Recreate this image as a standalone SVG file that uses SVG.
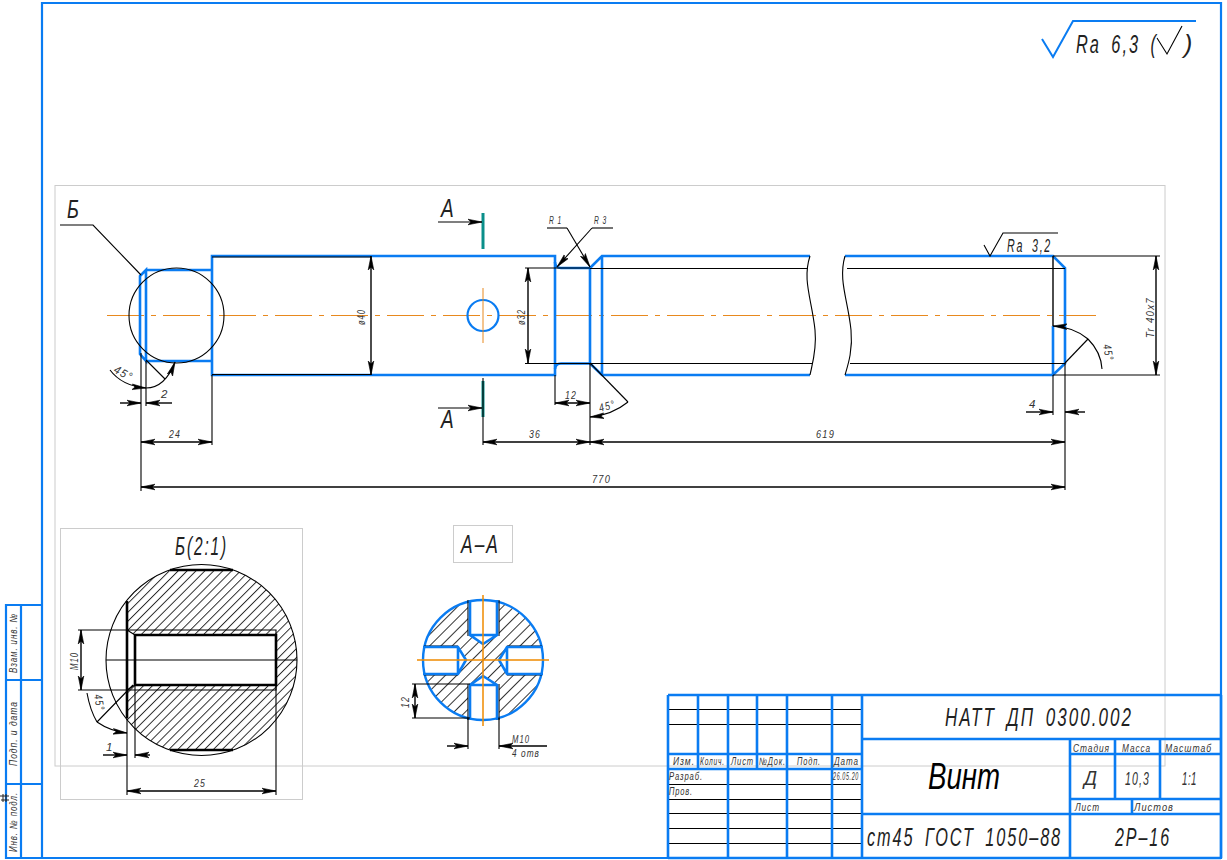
<svg xmlns="http://www.w3.org/2000/svg" width="1227" height="860" viewBox="0 0 1227 860">
<style>
.b{fill:none;stroke:#0a7cf2;stroke-width:2.6}
.k{fill:none;stroke:#000;stroke-width:1.1}
.m{fill:none;stroke:#000;stroke-width:1.4}
.h{fill:none;stroke:#000;stroke-width:2.6}
.g{fill:none;stroke:#ccc;stroke-width:1}
.c{fill:none;stroke:#e8891e;stroke-width:1.2;stroke-dasharray:37 7 5 7}
.o{fill:none;stroke:#f08a00;stroke-width:1.5}
.s{fill:none;stroke:#0a8f8a;stroke-width:3}
.a{marker-start:url(#as);marker-end:url(#ae)}
.e{marker-end:url(#ae)}
.st{marker-start:url(#as)}
text{font-family:"Liberation Sans",Arial,sans-serif;font-style:italic;fill:#333}
.d{font-size:11.500px;letter-spacing:1.500px}
.l{font-size:10.500px;letter-spacing:1.200px}
.x{font-size:25px;fill:#222;letter-spacing:3px;word-spacing:6px}
</style>
<defs>
<marker id="ae" markerUnits="userSpaceOnUse" markerWidth="15" markerHeight="8" refX="14" refY="4" orient="auto"><path d="M0,1.200L14,4L0,6.800L3,4Z" fill="#000" stroke="#000" stroke-width=".6"/></marker>
<marker id="as" markerUnits="userSpaceOnUse" markerWidth="15" markerHeight="8" refX="1" refY="4" orient="auto"><path d="M15,1.200L1,4L15,6.800L12,4Z" fill="#000" stroke="#000" stroke-width=".6"/></marker>
<pattern id="h1" width="6.300" height="6.300" patternUnits="userSpaceOnUse" patternTransform="rotate(-45)"><line x1="0" y1="0.500" x2="6.300" y2="0.500" stroke="#000" stroke-width=".8"/></pattern>
<pattern id="h2" width="8" height="8" patternUnits="userSpaceOnUse" patternTransform="rotate(-45)"><line x1="0" y1="0.500" x2="8" y2="0.500" stroke="#000" stroke-width=".8"/></pattern>
<clipPath id="aa"><circle cx="483" cy="660" r="60"/></clipPath>
</defs>
<rect width="1227" height="860" fill="#fff"/>

<g id="sheet-frame">
<rect class="g" x="55" y="185.500" width="1110" height="580.500"/>
<rect class="g" x="60.500" y="528.500" width="242" height="271"/>
<rect class="g" x="453.500" y="525.500" width="59" height="37"/>
<path class="b" style="stroke-width:2.200" d="M42,858V3H1221V858H6V605H42M6,680H42M6,784H42M21,605V858"/>
<path d="M0,796H9M1,800H9M3,794V802M6,794V802" fill="none" stroke="#222" stroke-width="1"/>
<text class="l" transform="translate(17,673) rotate(-90)" textLength="60" lengthAdjust="spacingAndGlyphs">Взам. инв. №</text>
<text class="l" transform="translate(17,766) rotate(-90)" textLength="65" lengthAdjust="spacingAndGlyphs">Подп. и дата</text>
<text class="l" transform="translate(17,852) rotate(-90)" textLength="60" lengthAdjust="spacingAndGlyphs">Инв. № подл.</text>
</g>

<g id="roughness-general">
<path d="M1042,39L1053,57L1073,21H1196" fill="none" stroke="#0a7cf2" stroke-width="2"/>
<text class="x" transform="translate(1076,53) scale(.66,1)" textLength="124" lengthAdjust="spacingAndGlyphs">Ra 6,3 (</text>
<path class="k" d="M1157,38L1167,54L1182,26"/>
<text class="x" x="1184" y="53" style="letter-spacing:0">)</text>
</g>

<g id="main-view">
<line class="c" x1="107" y1="315.500" x2="1103" y2="315.500"/>
<path class="b" d="M212,256H555V262Q555,268 561,268H590V363.500H561Q555,363.500 555,369.500V375H212ZM146,270H212M146,361H212M146,270L140,276V354L146,361ZM146,270V361"/>
<path class="b" d="M555,262V369M590,268L602,256H810M590,363.500L602,375H810M602,256V375"/>
<path class="b" d="M845,256H1053L1065,268V363.500L1053,375H845M1053,326V375"/>
<path class="k" d="M212,257H371M212,374.500H371"/>
<path class="k" d="M590,268.500H808M590,363.500H812M847,268.500H1065M850,363.500H1065"/>
<path class="m" d="M1053,256V326"/>
<path class="k" d="M810,256C802,280 812,300 815,330C817,350 812,365 810,375M845,256C838,280 848,300 851,330C853,350 848,365 845,375"/>
<circle cx="483" cy="315.500" r="15.500" fill="none" stroke="#0a7cf2" stroke-width="2.200"/>
<line x1="483" y1="288" x2="483" y2="343" stroke="#e8891e" stroke-width="1"/>
<line class="s" x1="483" y1="213" x2="483" y2="249"/>
<line class="s" x1="483" y1="381" x2="483" y2="417"/>
</g>

<g id="main-annotations">
<circle class="k" cx="176.500" cy="315.500" r="47.500"/>
<path class="k" d="M60,225H93L141,275"/>
<text class="x" x="67" y="218" textLength="14" lengthAdjust="spacingAndGlyphs">Б</text>
<path class="k e" d="M438,222H482"/>
<path class="k e" d="M438,408H482"/>
<text class="x" x="441" y="217" textLength="15" lengthAdjust="spacingAndGlyphs">А</text>
<text class="x" x="441" y="428" textLength="15" lengthAdjust="spacingAndGlyphs">А</text>

<path class="k" d="M141,353V491M212,375V445M146,361V406M483,378V445M590,363V445M1065,363V490M555,375V405M1053,375V415"/>
<path class="m a" d="M141,442H212"/>
<path class="m a" d="M483,442H590"/>
<path class="m a" d="M590,442H1065"/>
<path class="m a" d="M141,487H1065"/>
<path class="m a" d="M555,403H590"/>
<path class="m e" d="M120,403H141"/>
<path class="m st" d="M146,403H172"/>
<path class="m e" d="M1026,412H1053"/>
<path class="m st" d="M1065,412H1085"/>
<text class="d" x="169" y="438" textLength="12" lengthAdjust="spacingAndGlyphs">24</text>
<text class="d" x="161" y="398">2</text>
<text class="d" x="565" y="399" textLength="12" lengthAdjust="spacingAndGlyphs">12</text>
<text class="d" x="529" y="438" textLength="12" lengthAdjust="spacingAndGlyphs">36</text>
<text class="d" x="816" y="438" textLength="19" lengthAdjust="spacingAndGlyphs">619</text>
<text class="d" x="592" y="483" textLength="19" lengthAdjust="spacingAndGlyphs">770</text>
<text class="d" x="1029" y="408">4</text>

<path class="k" d="M146,360L165,379"/>
<path class="k e" d="M110,370Q122,386 146,388"/>
<path class="k e" d="M146,388Q165,388 175,362"/>
<text class="d" transform="translate(113,372) rotate(28)" textLength="20" lengthAdjust="spacingAndGlyphs">45°</text>

<path class="k" d="M590,363L628,402"/>
<path class="k st" d="M590,417Q612,415 628,402"/>
<text class="d" transform="translate(600,412) rotate(-15)" textLength="17" lengthAdjust="spacingAndGlyphs">45°</text>

<path class="k" d="M1065,363L1088,339"/>
<path class="k st" d="M1053,326Q1074,327 1088,339"/>
<path class="k" d="M1088,339Q1101,352 1102,369"/>
<text class="d" transform="translate(1103,345) rotate(80)" textLength="17" lengthAdjust="spacingAndGlyphs">45°</text>

<path class="k" d="M547,228H567"/>
<path class="k" d="M613,228H592"/>
<path class="k e" d="M567,228L590,267"/>
<path class="k e" d="M592,228L557,267"/>
<text class="d" x="549" y="224" textLength="13" lengthAdjust="spacingAndGlyphs">R 1</text>
<text class="d" x="594" y="224" textLength="13" lengthAdjust="spacingAndGlyphs">R 3</text>

<path class="k" d="M525,268H590M525,363.500H590"/>
<path class="m a" d="M528,268V363"/>
<text class="d" transform="translate(525,325) rotate(-90)" textLength="16" lengthAdjust="spacingAndGlyphs">ø32</text>
<path class="m a" d="M371,256V375"/>
<text class="d" transform="translate(365,325) rotate(-90)" textLength="16" lengthAdjust="spacingAndGlyphs">ø40</text>

<path class="k" d="M1053,256H1160M1053,375H1160"/>
<path class="m a" d="M1156,256V375"/>
<text class="d" transform="translate(1154,338) rotate(-90)" textLength="41" lengthAdjust="spacingAndGlyphs">Tr 40x7</text>

<path class="k" d="M984,245L990,256L1003,233H1058"/>
<text class="x" style="font-size:19px" x="1007" y="252" textLength="45" lengthAdjust="spacingAndGlyphs">Ra 3,2</text>
</g>

<g id="detail-b">
<path fill="url(#h1)" fill-rule="evenodd" d="M127,600A95.500,95.500 0 0 1 169.500,570H233.500A95.500,95.500 0 0 1 233.500,750H169.500A95.500,95.500 0 0 1 127,720ZM127,630L135,635H276V685H135L127,690Z"/>
<circle class="k" cx="201.500" cy="660" r="95.500"/>
<path class="h" d="M127,601V718M170,570H233M170,750H233M135,635H276V685H135Z"/>
<path class="k" d="M127,630H276V690H127M127,630L135,635M127,690L135,685M106,660H297"/>
<text class="x" x="175" y="555" textLength="53" lengthAdjust="spacingAndGlyphs">Б(2:1)</text>
<path class="k" d="M78,630H127M78,690H127M127,718V795M276,686V795M135,685V758M133,685L97,722"/>
<path class="m a" d="M81,630V690"/>
<text class="d" transform="translate(78,670) rotate(-90)" textLength="18" lengthAdjust="spacingAndGlyphs">M10</text>
<path class="k" d="M87,693Q90,710 97,722"/>
<path class="k e" d="M97,722Q110,731 127,733"/>
<text class="d" transform="translate(94,695) rotate(80)" textLength="17" lengthAdjust="spacingAndGlyphs">45°</text>
<path class="m e" d="M103,755H127"/>
<path class="m st" d="M135,755H150"/>
<text class="d" x="106" y="751">1</text>
<path class="m a" d="M127,791H276"/>
<text class="d" x="194" y="787" textLength="12" lengthAdjust="spacingAndGlyphs">25</text>
</g>

<g id="section-aa">
<g clip-path="url(#aa)"><path fill="url(#h2)" fill-rule="evenodd" d="M420,595H546V725H420ZM468,590H499V635L483,644L468,635ZM468,730H499V685L483,676L468,685ZM415,646H458L467,660L458,675H415ZM551,646H507L499,660L507,675H551Z"/></g>
<circle cx="483" cy="660" r="60" fill="none" stroke="#0a7cf2" stroke-width="2.400"/>
<path class="k" d="M468,600V636M499,600V636M468,684V720M499,684V720M424,646H458M424,675H458M507,646H542M507,675H542"/>
<path class="b" d="M470,600V635L483,644L497,635V600M470,635H497"/>
<path class="b" d="M470,720V685L483,676L497,685V720M470,685H497"/>
<path class="b" d="M423,647H458L466,660L458,674H423M458,647V674"/>
<path class="b" d="M543,647H507L499,660L507,674H543M507,647V674"/>
<path class="o" d="M483,595V726M417,660H549"/>
<text class="x" x="461" y="553" textLength="39" lengthAdjust="spacingAndGlyphs">А–А</text>
<path class="k" d="M412,684H470M412,718H470M468,718V749M499,718V749"/>
<path class="m a" d="M415,684V718"/>
<text class="d" transform="translate(409,708) rotate(-90)" textLength="12" lengthAdjust="spacingAndGlyphs">12</text>
<path class="m e" d="M447,746H468"/>
<path class="m st" d="M499,746H547"/>
<text class="d" x="512" y="743" textLength="18" lengthAdjust="spacingAndGlyphs">M10</text>
<text class="d" x="512" y="757" textLength="28" lengthAdjust="spacingAndGlyphs">4 отв</text>
</g>

<g id="title-block">
<path class="k" d="M668,709.500H862M668,724.500H862M668,784.500H862M668,799.500H862M668,813.500H862M668,828.500H862M668,843.500H862"/>
<path class="b" d="M668,695H1221M668,754H862M668,769H862M668,858H1221M668,695V858M698,695V769M728,695V858M757,695V769M787,695V858M832,695V858M862,695V858"/>
<path class="b" d="M862,739H1221M1070,739V858M1070,754H1221M1070,799H1221M862,814H1221M1115,739V799M1160,739V799M1132,799V814M1221,695V858"/>
<text class="l" x="673" y="765" textLength="22" lengthAdjust="spacingAndGlyphs">Изм.</text>
<text class="l" transform="translate(700,765) scale(.62,1)" textLength="40" lengthAdjust="spacingAndGlyphs">Колич.</text>
<text class="l" transform="translate(731,765) scale(.72,1)" textLength="32" lengthAdjust="spacingAndGlyphs">Лист</text>
<text class="l" transform="translate(759,765) scale(.6,1)" textLength="45" lengthAdjust="spacingAndGlyphs">№Док.</text>
<text class="l" x="797" y="765" textLength="24" lengthAdjust="spacingAndGlyphs">Подп.</text>
<text class="l" x="834" y="765" textLength="25" lengthAdjust="spacingAndGlyphs">Дата</text>
<text class="l" x="669" y="780" textLength="34" lengthAdjust="spacingAndGlyphs">Разраб.</text>
<text class="l" x="669" y="795" textLength="24" lengthAdjust="spacingAndGlyphs">Пров.</text>
<text class="l" x="833" y="780" textLength="26" lengthAdjust="spacingAndGlyphs">26.05.20</text>
<text class="l" x="1073" y="752" textLength="37" lengthAdjust="spacingAndGlyphs">Стадия</text>
<text class="l" x="1122" y="752" textLength="29" lengthAdjust="spacingAndGlyphs">Масса</text>
<text class="l" x="1165" y="752" textLength="47" lengthAdjust="spacingAndGlyphs">Масштаб</text>
<text class="l" x="1075" y="811" textLength="25" lengthAdjust="spacingAndGlyphs">Лист</text>
<text class="l" x="1134" y="811" textLength="40" lengthAdjust="spacingAndGlyphs">Листов</text>
<text style="font-size:20px" x="1084" y="785" textLength="13" lengthAdjust="spacingAndGlyphs">Д</text>
<text style="font-size:19px;letter-spacing:2px" x="1125" y="785" textLength="25" lengthAdjust="spacingAndGlyphs">10,3</text>
<text style="font-size:19px;letter-spacing:1px" x="1182" y="785" textLength="15" lengthAdjust="spacingAndGlyphs">1:1</text>
<text class="x" x="945" y="726" textLength="188" lengthAdjust="spacingAndGlyphs">НАТТ ДП 0300.002</text>
<text style="font-size:36px;fill:#000" x="928" y="789" textLength="72" lengthAdjust="spacingAndGlyphs">Винт</text>
<text class="x" transform="translate(867,846) scale(.72,1)" textLength="271" lengthAdjust="spacingAndGlyphs">ст45 ГОСТ 1050–88</text>
<text class="x" x="1115" y="846" textLength="56" lengthAdjust="spacingAndGlyphs">2Р–16</text>
</g>
</svg>
